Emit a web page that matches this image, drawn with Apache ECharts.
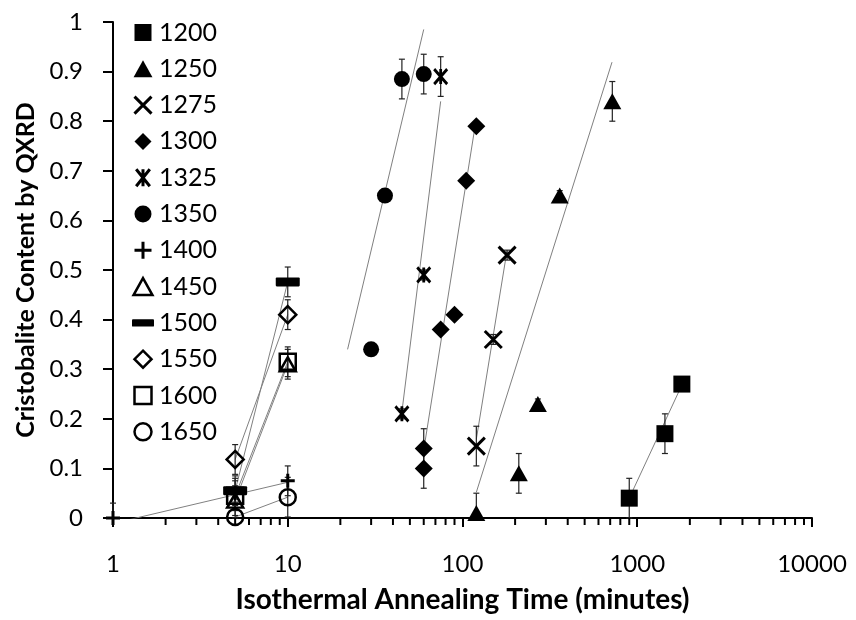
<!DOCTYPE html>
<html>
<head>
<meta charset="utf-8">
<script src="https://cdn.jsdelivr.net/npm/echarts@6/dist/echarts.min.js"></script>
<style>html,body{margin:0;padding:0;background:#fff}#c{width:856px;height:620px}</style>
</head>
<body>
<div id="c"></div>
<script>
// ---- data ----
const temps = ['1200','1250','1275','1300','1325','1350','1400','1450','1500','1550','1600','1650'];
const timeX = [
  [900, 1440, 1800],
  [120, 210, 270, 360, 720],
  [120, 150, 180],
  [60, 60, 75, 90, 105, 120],
  [45, 60, 75],
  [30, 36, 45, 60],
  [1, 5, 10],
  [5, 10],
  [5, 10],
  [5, 10],
  [5, 10],
  [5, 10]
];
const fracY = [
  [0.04, 0.17, 0.27],
  [0.01, 0.09, 0.23, 0.65, 0.84],
  [0.145, 0.36, 0.53],
  [0.14, 0.10, 0.38, 0.41, 0.68, 0.79],
  [0.21, 0.49, 0.89],
  [0.34, 0.65, 0.885, 0.895],
  [0, 0.05, 0.075],
  [0.035, 0.31],
  [0.055, 0.476],
  [0.118, 0.41],
  [0.045, 0.315],
  [0.002, 0.042]
];
const errY = [
  [0.04, 0.04, 0],
  [0.04, 0.04, 0.01, 0.01, 0.04],
  [0.04, 0.01, 0.01],
  [0.04, 0.04, 0, 0, 0, 0],
  [0.01, 0.01, 0.04],
  [0, 0, 0.04, 0.04],
  [0.03, 0.03, 0.03],
  [0.03, 0.03],
  [0.03, 0.03],
  [0.03, 0.03],
  [0.03, 0.03],
  [0.03, 0.04]
];
// logarithmic trend lines: start and end [time, fraction]
const trendStart = [[900,0.04],[120,0.052],[120,0.159],[60,0.137],[45,0.214],[22,0.34],[1,-0.011],[5,0.035],[5,0.055],[5,0.118],[5,0.045],[5,0.002]];
const trendEnd   = [[1800,0.268],[717,0.919],[180,0.54],[120,0.806],[75,0.84],[60,0.985],[10,0.072],[10,0.31],[10,0.476],[10,0.41],[10,0.315],[10,0.042]];
const xTickLabels = [1, 10, 100, 1000, 10000];
const yTickLabels = [0,0.1,0.2,0.3,0.4,0.5,0.6,0.7,0.8,0.9,1];

// ---- styles ----
const FONT = 'Lato';
const SQ = 'path://M0,0L10,0L10,10L0,10Z';
const TRI = 'path://M5,0L10,9L0,9Z';
const DIA = 'path://M5,0L10,5L5,10L0,5Z';
const CIR = 'path://M10,5A5,5,0,1,1,0,5A5,5,0,1,1,10,5Z';
const XX = 'path://M0,0L10,10M10,0L0,10';
const AST = 'path://M1,0L9,10M9,0L1,10M5,0L5,10';
const PLUS = 'path://M5,0L5,10M0,5L10,5';
const BAR = 'path://M1,0L23,0Q24,0,24,1L24,7Q24,8,23,8L1,8Q0,8,0,7L0,1Q0,0,1,0Z';
const filled = {color:'#000', borderColor:'#000', borderWidth:0, opacity:1};
const open = {color:'rgba(0,0,0,0)', borderColor:'#000', borderWidth:2.5, opacity:1};
const stroke = {color:'rgba(0,0,0,0)', borderColor:'#000', borderWidth:3, opacity:1};
const markers = [
  {sym:SQ, size:17, st:filled},
  {sym:TRI, size:[18,16], st:filled},
  {sym:XX, size:17, st:stroke},
  {sym:DIA, size:18, st:filled},
  {sym:AST, size:[13,15], st:stroke},
  {sym:CIR, size:16, st:filled},
  {sym:PLUS, size:14, st:stroke},
  {sym:TRI, size:[16,14], st:open},
  {sym:BAR, size:[24,9], st:filled},
  {sym:DIA, size:17, st:open},
  {sym:SQ, size:16, st:open},
  {sym:CIR, size:16, st:open}
];

const series = [];
const errData = [];
temps.forEach((t, i) => {
  series.push({
    name: 'trend' + t, type: 'line', silent: true, symbol: 'none', z: 2, clip: true,
    data: [trendStart[i], trendEnd[i]],
    lineStyle: {color: '#808080', width: 1}
  });
  timeX[i].forEach((x, j) => { if (errY[i][j] > 0) errData.push([x, fracY[i][j], errY[i][j]]); });
});
series.push({
  name: 'errbars', type: 'custom', z: 3, silent: true,
  data: errData,
  renderItem: function (params, api) {
    const x = api.value(0), y = api.value(1), e = api.value(2);
    const top = api.coord([x, y + e]);
    const bot = api.coord([x, Math.max(0, y - e)]);
    const w = 3;
    const ls = {stroke: '#222', lineWidth: 1.2};
    return {type: 'group', children: [
      {type: 'line', shape: {x1: top[0], y1: top[1], x2: bot[0], y2: bot[1]}, style: ls},
      {type: 'line', shape: {x1: top[0]-w, y1: top[1], x2: top[0]+w, y2: top[1]}, style: ls},
      {type: 'line', shape: {x1: bot[0]-w, y1: bot[1], x2: bot[0]+w, y2: bot[1]}, style: ls}
    ]};
  }
});
temps.forEach((t, i) => {
  const m = markers[i];
  series.push({
    name: t, type: 'scatter', z: 4,
    symbol: m.sym, symbolSize: m.size,
    itemStyle: m.st,
    data: timeX[i].map((x, j) => [x, fracY[i][j]])
  });
});
// minor ticks of the log axis
const minorTicks = [];
for (let k = 0; k < 4; k++) for (let d = 2; d <= 9; d++) minorTicks.push([d * Math.pow(10, k), 0]);
series.push({
  name: 'minorTicks', type: 'custom', z: 5, silent: true,
  data: minorTicks,
  renderItem: function (params, api) {
    const p = api.coord([api.value(0), 0]);
    return {type: 'line', shape: {x1: p[0], y1: p[1], x2: p[0], y2: p[1] + 7}, style: {stroke: '#000', lineWidth: 2}};
  }
});

const chart = echarts.init(document.getElementById('c'), null, {renderer: 'canvas'});
chart.setOption({
  animation: false,
  backgroundColor: '#fff',
  textStyle: {fontFamily: FONT},
  grid: {left: 113, right: 44, top: 22, bottom: 102, containLabel: false},
  legend: {
    orient: 'vertical', left: 127, top: 15, itemWidth: 22, itemHeight: 17, itemGap: 11.3,
    selectedMode: false,
    textStyle: {fontSize: 25, color: '#000', fontFamily: FONT, lineHeight: 24},
    data: temps.map((t, i) => ({name: t, icon: markers[i].sym, itemStyle: markers[i].st}))
  },
  xAxis: {
    type: 'log', logBase: 10, min: xTickLabels[0], max: xTickLabels[xTickLabels.length-1],
    name: 'Isothermal Annealing Time (minutes)', nameLocation: 'middle', nameGap: 68,
    nameTextStyle: {fontSize: 28, fontWeight: 'bold', color: '#000', fontFamily: FONT},
    axisLine: {onZero: false, lineStyle: {color: '#000', width: 2}},
    axisTick: {show: true, length: 9, lineStyle: {color: '#000', width: 2}},
    axisLabel: {fontSize: 24, color: '#000', margin: 34, fontFamily: FONT, formatter: v => String(Math.round(v))},
    splitLine: {show: false}, minorTick: {show: false}
  },
  yAxis: {
    type: 'value', min: yTickLabels[0], max: yTickLabels[yTickLabels.length-1], interval: 0.1,
    name: 'Cristobalite Content by QXRD', nameLocation: 'middle', nameGap: 69, nameRotate: 90,
    nameTextStyle: {fontSize: 25, fontWeight: 'bold', color: '#000', fontFamily: FONT},
    axisLine: {show: true, lineStyle: {color: '#000', width: 2}},
    axisTick: {show: true, length: 10, lineStyle: {color: '#000', width: 2}},
    axisLabel: {fontSize: 24, color: '#000', margin: 30, fontFamily: FONT, formatter: v => String(+v.toFixed(1))},
    splitLine: {show: false}
  },
  series: series
});
</script>
</body>
</html>
